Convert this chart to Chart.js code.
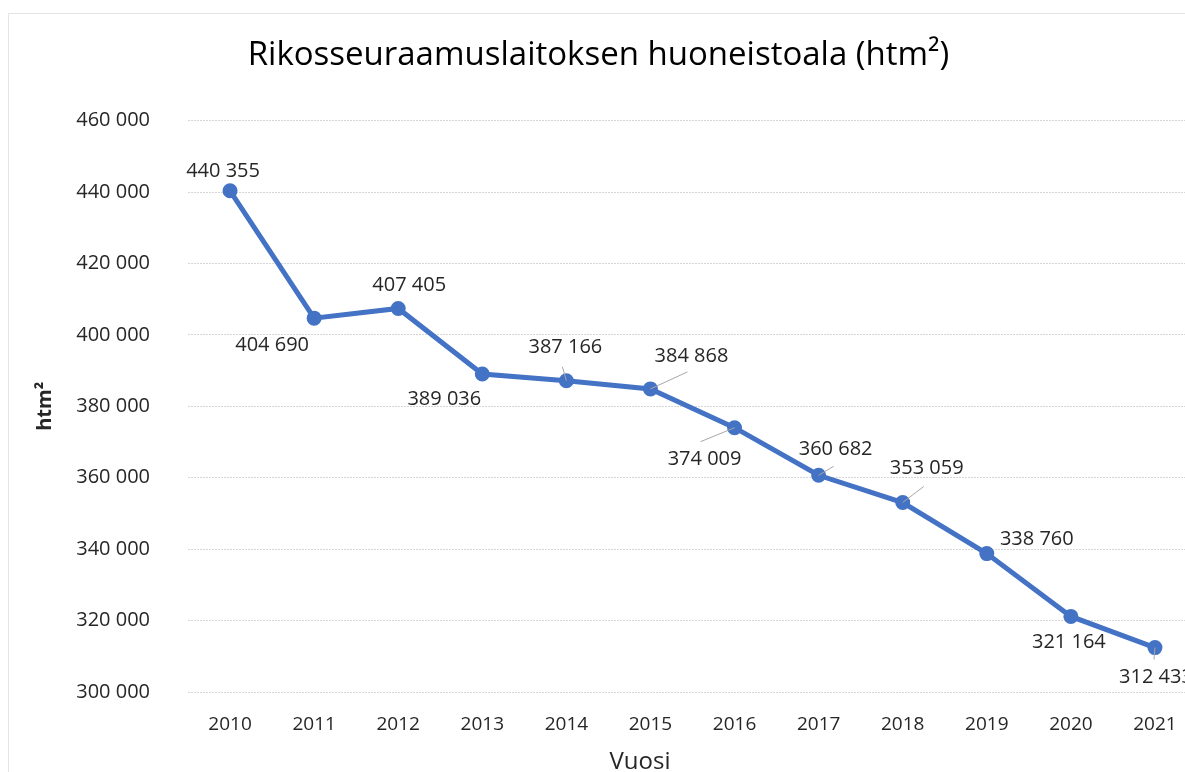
<!DOCTYPE html>
<html>
<head>
<meta charset="utf-8">
<script src="https://cdn.jsdelivr.net/npm/chart.js@4"></script>
<style>
    html, body { margin: 0; padding: 0; background: #fff; overflow: hidden; }
    #frame {
        position: absolute; left: 8px; top: 13px; width: 1300px; height: 900px;
        border: 1px solid #e4e4e4;
    }
    #wrap { position: absolute; left: 0; top: 0; width: 1210px; height: 790px; }
</style>
</head>
<body>
<div id="frame"></div>
<div id="wrap"><canvas id="chart"></canvas></div>
<script>
    // Data
    const years = ['2010', '2011', '2012', '2013', '2014', '2015', '2016', '2017', '2018', '2019', '2020', '2021'];
    const areas = [440355, 404690, 407405, 389036, 387166, 384868, 374009, 360682, 353059, 338760, 321164, 312433];
    const yMin = 300000;
    const yMax = 460000;
    const yStep = 20000;
    const xTitle = 'Vuosi';

    // label placement (label centre relative to point) and leader lines
    const labelOffsets = [[-7, -19], [-42, 27], [11, -23], [-38, 25], [-1, -33], [41, -33],
                          [-30, 32], [17, -26], [24, -34], [50, -14], [-2, 26], [1, 30]];
    const leaderLines = [null, null, null, null, [-4, -14], [37, -17],
                         [-34, 14], [15, -9], [21, -16], null, null, [-1, 12]];

    const FONT = '"Open Sans", Lato, sans-serif';
    const TEXT = '#262626';

    function fmt(v) {
        return String(v).replace(/\B(?=(\d{3})+(?!\d))/g, ' ');
    }

    const labelPlugin = {
        id: 'pointLabels',
        afterDatasetsDraw(chart) {
            const ctx = chart.ctx;
            const meta = chart.getDatasetMeta(0);
            ctx.save();
            meta.data.forEach((pt, i) => {
                const ll = leaderLines[i];
                if (ll) {
                    ctx.strokeStyle = '#a6a6a6';
                    ctx.lineWidth = 1;
                    ctx.beginPath();
                    ctx.moveTo(pt.x, pt.y);
                    ctx.lineTo(pt.x + ll[0], pt.y + ll[1]);
                    ctx.stroke();
                }
                const off = labelOffsets[i];
                ctx.fillStyle = TEXT;
                ctx.font = '20px ' + FONT;
                ctx.textAlign = 'center';
                ctx.textBaseline = 'middle';
                ctx.fillText(fmt(areas[i]), pt.x + off[0], pt.y + off[1]);
            });
            // x axis title (Excel centres it on the whole chart box)
            ctx.font = '24px ' + FONT;
            ctx.fillText(xTitle, 640, 762);
            ctx.restore();
        }
    };

    const ctx = document.getElementById('chart').getContext('2d');
    const chart = new Chart(ctx, {
        type: 'line',
        data: {
            labels: years,
            datasets: [{
                data: areas,
                borderColor: '#4472C4',
                backgroundColor: '#4472C4',
                borderWidth: 5,
                pointRadius: 5,
                pointHoverRadius: 5,
                tension: 0
            }]
        },
        options: {
            responsive: true,
            maintainAspectRatio: false,
            animation: false,
            layout: { padding: { left: 0, right: 13, top: 0, bottom: 0 } },
            scales: {
                x: {
                    offset: true,
                    grid: { display: false, drawTicks: false },
                    border: { display: false },
                    ticks: { color: TEXT, font: { family: FONT, size: 19 }, padding: 21, maxRotation: 0 },
                    afterFit(scale) { scale.height = 98; }
                },
                y: {
                    min: yMin,
                    max: yMax,
                    grid: { color: '#d6d6d6', drawTicks: false, lineWidth: 1 },
                    border: { display: false, dash: [2, 1] },
                    ticks: {
                        stepSize: yStep,
                        color: TEXT,
                        font: { family: FONT, size: 20 },
                        padding: 38,
                        callback: (v) => fmt(v)
                    },
                    title: { display: true, text: 'htm²', color: TEXT, font: { family: FONT, size: 20, weight: 'bold' }, padding: { top: 33, bottom: 0 } },
                    afterFit(scale) { scale.width = 188; }
                }
            },
            plugins: {
                legend: { display: false },
                tooltip: { enabled: false },
                title: {
                    display: true,
                    text: 'Rikosseuraamuslaitoksen huoneistoala (htm²)',
                    color: '#000',
                    font: { family: FONT, size: 33, weight: 'normal', lineHeight: 1.2 },
                    padding: { top: 36, bottom: 45 }
                }
            }
        },
        plugins: [labelPlugin]
    });
</script>
</body>
</html>
